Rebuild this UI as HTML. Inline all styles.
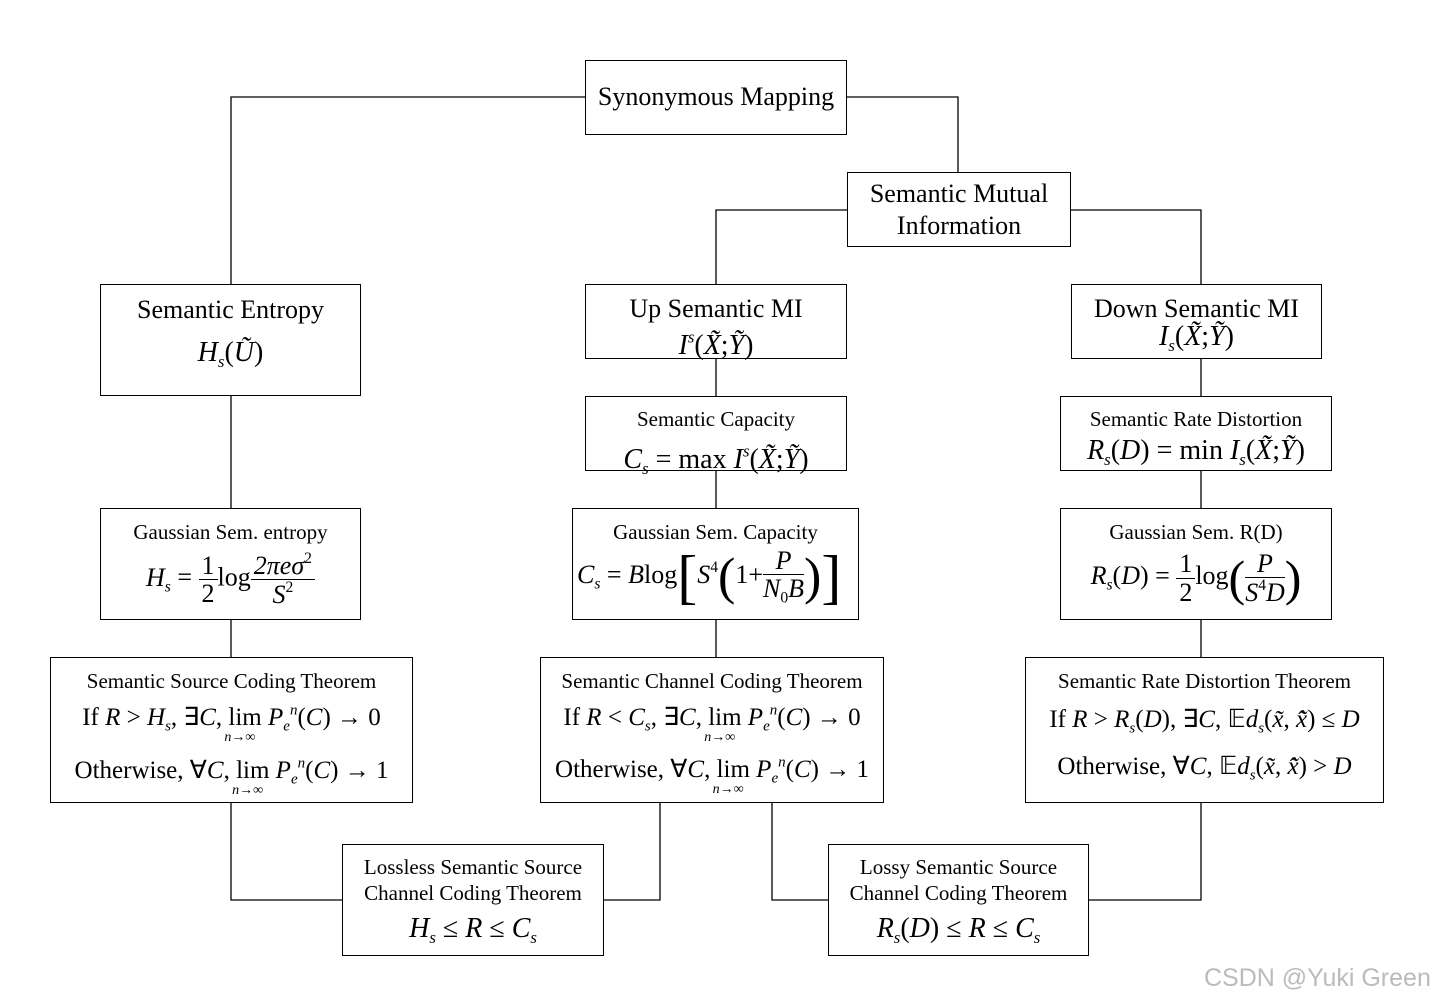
<!DOCTYPE html>
<html><head><meta charset="utf-8"><style>
body{margin:0;background:#fff;}
#c{position:relative;width:1438px;height:1006px;overflow:hidden;font-family:"Liberation Serif",serif;color:#000;}
.b{position:absolute;border:1.3px solid #000;box-sizing:border-box;background:#fff;}
.t{position:absolute;left:0;right:0;text-align:center;white-space:nowrap;}
.L{font-size:26px;}
.s{font-size:21px;}
.f{font-size:28px;}
i{font-style:italic;}
sub{font-size:60%;vertical-align:-0.35em;}
sup{font-size:60%;vertical-align:0.7em;}
.fr{display:inline-block;vertical-align:middle;text-align:center;line-height:1.05;}
.fr span{display:block;}
.fr .n{border-bottom:1.3px solid #000;padding:0 3px;}
.lim{display:inline-block;position:relative;}
.lim .u{position:absolute;left:-4px;top:26px;font-size:14px;font-style:italic;}
</style></head><body><div id="c">
<svg width="1438" height="1006" style="position:absolute;left:0;top:0" fill="none" stroke="#000" stroke-width="1.3">
<polyline points="585,97 231,97 231,284"/>
<polyline points="847,97 958,97 958,172"/>
<polyline points="847,210 716,210 716,284"/>
<polyline points="1071,210 1201,210 1201,284"/>
<line x1="231" y1="396" x2="231" y2="508"/><line x1="231" y1="620" x2="231" y2="657"/>
<line x1="716" y1="359" x2="716" y2="396"/><line x1="716" y1="471" x2="716" y2="508"/><line x1="716" y1="620" x2="716" y2="657"/>
<line x1="1201" y1="359" x2="1201" y2="396"/><line x1="1201" y1="471" x2="1201" y2="508"/><line x1="1201" y1="620" x2="1201" y2="657"/>
<polyline points="231,803 231,900 342,900"/>
<polyline points="660,803 660,900 604,900"/>
<polyline points="772,803 772,900 828,900"/>
<polyline points="1201,803 1201,900 1089,900"/>
</svg>

<div class="b" style="left:585px;top:60px;width:262px;height:75px"><div class="t L" style="top:21px">Synonymous Mapping</div></div>
<div class="b" style="left:847px;top:172px;width:224px;height:75px"><div class="t L" style="top:5px;line-height:32px">Semantic Mutual<br>Information</div></div>

<div class="b" style="left:100px;top:284px;width:261px;height:112px"><div class="t L" style="top:10px">Semantic Entropy</div><div class="t f" style="top:52px"><i>H<sub>s</sub></i>(<i>Ũ</i>)</div></div>
<div class="b" style="left:585px;top:284px;width:262px;height:75px"><div class="t L" style="top:9px">Up Semantic MI</div><div class="t f" style="top:37px;line-height:30px"><i>I<sup>s</sup></i>(<i>X̃</i>;<i>Ỹ</i>)</div></div>
<div class="b" style="left:1071px;top:284px;width:251px;height:75px"><div class="t L" style="top:9px">Down Semantic MI</div><div class="t f" style="top:37px;line-height:30px"><i>I<sub>s</sub></i>(<i>X̃</i>;<i>Ỹ</i>)</div></div>

<div class="b" style="left:585px;top:396px;width:262px;height:75px"><div class="t s" style="top:10px">Semantic Capacity</div><div class="t f" style="top:37px;line-height:34px"><i>C<sub>s</sub></i> = max <i>I<sup>s</sup></i>(<i>X̃</i>;<i>Ỹ</i>)</div></div>
<div class="b" style="left:1060px;top:396px;width:272px;height:75px"><div class="t s" style="top:10px">Semantic Rate Distortion</div><div class="t f" style="top:37px;line-height:34px"><i>R<sub>s</sub></i>(<i>D</i>) = min <i>I<sub>s</sub></i>(<i>X̃</i>;<i>Ỹ</i>)</div></div>

<div class="b" style="left:100px;top:508px;width:261px;height:112px"><div class="t s" style="top:11px">Gaussian Sem. entropy</div>
<div class="t" style="top:42px;font-size:26px"><i>H<sub>s</sub></i> = <span class="fr"><span class="n">1</span><span>2</span></span>log<span class="fr"><span class="n"><i>2πeσ</i><sup>2</sup></span><span><i>S</i><sup>2</sup></span></span></div></div>
<div class="b" style="left:572px;top:508px;width:287px;height:112px"><div class="t s" style="top:11px">Gaussian Sem. Capacity</div>
<div class="t" style="top:38px;font-size:26px;text-align:left;left:4px"><i>C<sub>s</sub></i> = <i>B</i>log<span style="font-size:60px;font-weight:100;vertical-align:middle;line-height:60px">[</span><i>S</i><sup>4</sup><span style="font-size:52px;vertical-align:middle">(</span>1+<span class="fr"><span class="n"><i>P</i></span><span><i>N</i><sub>0</sub><i>B</i></span></span><span style="font-size:52px;vertical-align:middle">)</span><span style="font-size:60px;vertical-align:middle;line-height:60px">]</span></div></div>
<div class="b" style="left:1060px;top:508px;width:272px;height:112px"><div class="t s" style="top:11px">Gaussian Sem. R(D)</div>
<div class="t" style="top:40px;font-size:26px"><i>R<sub>s</sub></i>(<i>D</i>) = <span class="fr"><span class="n">1</span><span>2</span></span>log<span style="font-size:50px;vertical-align:middle">(</span><span class="fr"><span class="n"><i>P</i></span><span><i>S</i><sup>4</sup><i>D</i></span></span><span style="font-size:50px;vertical-align:middle">)</span></div></div>

<div class="b" style="left:50px;top:657px;width:363px;height:146px"><div class="t s" style="top:11px">Semantic Source Coding Theorem</div>
<div class="t" style="top:44px;font-size:25px">If <i>R</i> &gt; <i>H<sub>s</sub></i>, ∃<i>C</i>, <span class="lim">lim<span class="u">n→∞</span></span> <i>P<sub>e</sub><sup>n</sup></i>(<i>C</i>) → 0</div>
<div class="t" style="top:97px;font-size:25px">Otherwise, ∀<i>C</i>, <span class="lim">lim<span class="u">n→∞</span></span> <i>P<sub>e</sub><sup>n</sup></i>(<i>C</i>) → 1</div></div>
<div class="b" style="left:540px;top:657px;width:344px;height:146px"><div class="t s" style="top:11px">Semantic Channel Coding Theorem</div>
<div class="t" style="top:44px;font-size:25px">If <i>R</i> &lt; <i>C<sub>s</sub></i>, ∃<i>C</i>, <span class="lim">lim<span class="u">n→∞</span></span> <i>P<sub>e</sub><sup>n</sup></i>(<i>C</i>) → 0</div>
<div class="t" style="top:96px;font-size:25px">Otherwise, ∀<i>C</i>, <span class="lim">lim<span class="u">n→∞</span></span> <i>P<sub>e</sub><sup>n</sup></i>(<i>C</i>) → 1</div></div>
<div class="b" style="left:1025px;top:657px;width:359px;height:146px"><div class="t s" style="top:11px">Semantic Rate Distortion Theorem</div>
<div class="t" style="top:46px;font-size:25px">If <i>R</i> &gt; <i>R<sub>s</sub></i>(<i>D</i>), ∃<i>C</i>, 𝔼<i>d<sub>s</sub></i>(<i>x̃</i>, <i>x̃̂</i>) ≤ <i>D</i></div>
<div class="t" style="top:93px;font-size:25px">Otherwise, ∀<i>C</i>, 𝔼<i>d<sub>s</sub></i>(<i>x̃</i>, <i>x̃̂</i>) &gt; <i>D</i></div></div>

<div class="b" style="left:342px;top:844px;width:262px;height:112px"><div class="t s" style="top:9px;line-height:26px">Lossless Semantic Source<br>Channel Coding Theorem</div>
<div class="t f" style="top:68px"><i>H<sub>s</sub></i> ≤ <i>R</i> ≤ <i>C<sub>s</sub></i></div></div>
<div class="b" style="left:828px;top:844px;width:261px;height:112px"><div class="t s" style="top:9px;line-height:26px">Lossy Semantic Source<br>Channel Coding Theorem</div>
<div class="t f" style="top:68px"><i>R<sub>s</sub></i>(<i>D</i>) ≤ <i>R</i> ≤ <i>C<sub>s</sub></i></div></div>

<div style="position:absolute;left:1204px;top:964px;font-family:'Liberation Sans',sans-serif;font-size:25px;color:#bbb">CSDN @Yuki Green</div>
</div></body></html>
